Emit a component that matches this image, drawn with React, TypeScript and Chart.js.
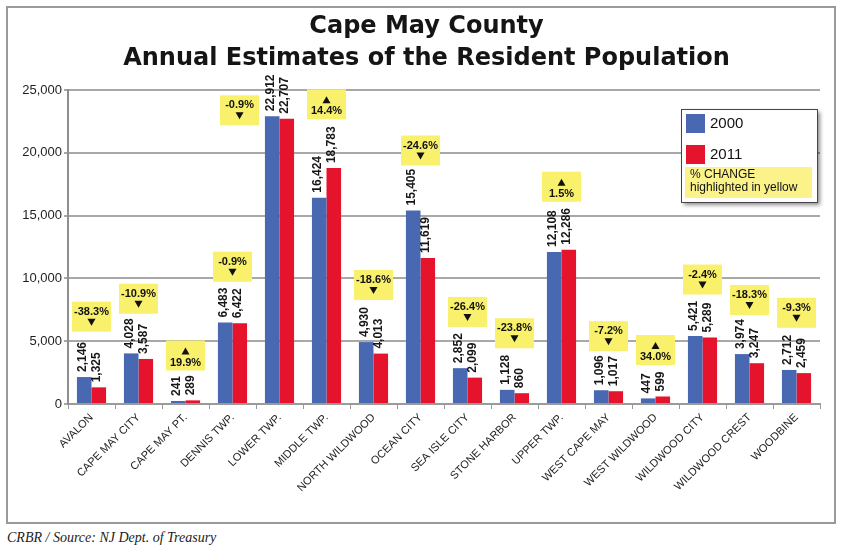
import React, { useEffect, useRef } from "react";
import { Chart, registerables } from "chart.js";

Chart.register(...registerables);

const categories = [
  "AVALON",
  "CAPE MAY CITY",
  "CAPE MAY PT.",
  "DENNIS TWP.",
  "LOWER TWP.",
  "MIDDLE TWP.",
  "NORTH WILDWOOD",
  "OCEAN CITY",
  "SEA ISLE CITY",
  "STONE HARBOR",
  "UPPER TWP.",
  "WEST CAPE MAY",
  "WEST WILDWOOD",
  "WILDWOOD CITY",
  "WILDWOOD CREST",
  "WOODBINE",
];
const pop2000 = [2146, 4028, 241, 6483, 22912, 16424, 4930, 15405, 2852, 1128, 12108, 1096, 447, 5421, 3974, 2712];
const pop2011 = [1325, 3587, 289, 6422, 22707, 18783, 4013, 11619, 2099, 860, 12286, 1017, 599, 5289, 3247, 2459];
const pctChange = [-38.3, -10.9, 19.9, -0.9, -0.9, 14.4, -18.6, -24.6, -26.4, -23.8, 1.5, -7.2, 34.0, -2.4, -18.3, -9.3];
// annotation anchors for the yellow % boxes: y value of box centre, and category offset
const changeAnchorValue = [6950, 8380, 3860, 10930, 23380, 23860, 9480, 20180, 7330, 5630, 17300, 5400, 4300, 9910, 8280, 7260];
const changeAnchorShift = [0, 0, 0, 0, -0.85, 0, 0, 0, 0, 0, 0, 0, 0, 0, 0, 0];
const seriesLabels = ["2000", "2011"];
const legendNote = ["% CHANGE", "highlighted in yellow"];
const titleLines = ["Cape May County", "Annual Estimates of the Resident Population"];
const sourceText = "CRBR / Source: NJ Dept. of Treasury";

const BLUE = "#4868b2";
const RED = "#e6132d";
const YELLOW = "#f9f06c";
const SANS = '"Liberation Sans", Arial, sans-serif';

const fmt = (v: number) => v.toLocaleString("en-US");
const fmtPct = (v: number) => v.toFixed(1) + "%";

const titleShift = {
  id: "titleShift",
  afterLayout(chart: any) {
    const t = chart.titleBlock;
    if (t) {
      t.left += 12.5;
      t.right += 12.5;
    }
  },
};

const valueLabels = {
  id: "valueLabels",
  afterDatasetsDraw(chart: any) {
    const ctx = chart.ctx;
    ctx.save();
    ctx.font = `bold 12px ${SANS}`;
    ctx.fillStyle = "#161616";
    ctx.textAlign = "left";
    ctx.textBaseline = "middle";
    chart.data.datasets.forEach((ds: any, di: number) => {
      const meta = chart.getDatasetMeta(di);
      meta.data.forEach((bar: any, i: number) => {
        ctx.save();
        ctx.translate(bar.x - 2, bar.y - 5);
        ctx.rotate(-Math.PI / 2);
        ctx.fillText(fmt(ds.data[i]), 0, 0);
        ctx.restore();
      });
    });
    ctx.restore();
  },
};

const changeBoxes = {
  id: "changeBoxes",
  afterDatasetsDraw(chart: any) {
    const ctx = chart.ctx;
    const xs = chart.scales.x;
    const ys = chart.scales.y;
    const step = xs.width / categories.length;
    ctx.save();
    categories.forEach((_c, i) => {
      const cx = xs.getPixelForValue(i) + changeAnchorShift[i] * step;
      const cy = ys.getPixelForValue(changeAnchorValue[i]);
      const w = 39;
      const h = 30;
      const left = cx - w / 2;
      const top = cy - h / 2;
      ctx.fillStyle = YELLOW;
      ctx.fillRect(left, top, w, h);
      ctx.fillStyle = "#111";
      ctx.font = `bold 11px ${SANS}`;
      ctx.textAlign = "center";
      ctx.textBaseline = "middle";
      const up = pctChange[i] > 0;
      ctx.beginPath();
      if (up) {
        ctx.moveTo(cx, top + 7);
        ctx.lineTo(cx + 4, top + 14);
        ctx.lineTo(cx - 4, top + 14);
        ctx.closePath();
        ctx.fill();
        ctx.fillText(fmtPct(pctChange[i]), cx, top + 22);
      } else {
        ctx.fillText(fmtPct(pctChange[i]), cx, top + 10);
        ctx.moveTo(cx - 4, top + 17);
        ctx.lineTo(cx + 4, top + 17);
        ctx.lineTo(cx, top + 24);
        ctx.closePath();
        ctx.fill();
      }
    });
    ctx.restore();
  },
};

const boxLegend = {
  id: "boxLegend",
  afterDraw(chart: any) {
    const ctx = chart.ctx;
    const a = chart.chartArea;
    const x = a.right - 139;
    const y = a.top + 19;
    const w = 136;
    const h = 93;
    ctx.save();
    ctx.shadowColor = "rgba(0,0,0,0.45)";
    ctx.shadowBlur = 4;
    ctx.shadowOffsetX = 3;
    ctx.shadowOffsetY = 3;
    ctx.fillStyle = "#fff";
    ctx.fillRect(x, y, w, h);
    ctx.restore();
    ctx.save();
    ctx.strokeStyle = "#444";
    ctx.lineWidth = 1;
    ctx.strokeRect(x + 0.5, y + 0.5, w, h);
    const colors = [BLUE, RED];
    seriesLabels.forEach((lab, k) => {
      const sy = y + 5 + k * 31;
      ctx.fillStyle = colors[k];
      ctx.fillRect(x + 5, sy, 19, 19);
      ctx.fillStyle = "#111";
      ctx.font = `15px ${SANS}`;
      ctx.textAlign = "left";
      ctx.textBaseline = "middle";
      ctx.fillText(lab, x + 29, sy + 10);
    });
    ctx.fillStyle = "#fbf38a";
    ctx.fillRect(x + 4, y + 58, 127, 31);
    ctx.fillStyle = "#111";
    ctx.font = `12px ${SANS}`;
    ctx.textAlign = "left";
    ctx.textBaseline = "middle";
    legendNote.forEach((t, k) => ctx.fillText(t, x + 9, y + 66 + k * 12.5));
    ctx.restore();
  },
};

export default function App() {
  const ref = useRef<HTMLCanvasElement>(null);

  useEffect(() => {
    if (!ref.current) return;
    const chart = new Chart(ref.current, {
      type: "bar",
      data: {
        labels: categories,
        datasets: [
          { label: seriesLabels[0], data: pop2000, backgroundColor: BLUE, borderWidth: 0 },
          { label: seriesLabels[1], data: pop2011, backgroundColor: RED, borderWidth: 0 },
        ],
      },
      options: {
        responsive: false,
        animation: false,
        devicePixelRatio: 1,
        layout: { padding: { left: 0, right: 14, top: 0, bottom: 0 } },
        datasets: { bar: { categoryPercentage: 0.62, barPercentage: 1.0 } },
        plugins: {
          legend: { display: false },
          tooltip: { enabled: false },
          title: {
            display: true,
            text: titleLines,
            color: "#151515",
            font: { family: '"DejaVu Sans", sans-serif', size: 24, weight: "bold", lineHeight: 1.333 },
            padding: { top: 2.5, bottom: 15.5 },
          },
        },
        scales: {
          x: {
            afterFit: (s: any) => {
              s.height = 118;
            },
            grid: {
              display: true,
              drawOnChartArea: false,
              offset: true,
              color: "#9a9a9a",
              tickLength: 5,
            },
            border: { display: true, color: "#9a9a9a", width: 2 },
            ticks: {
              minRotation: 45,
              maxRotation: 45,
              autoSkip: false,
              padding: 2,
              color: "#1e1e1e",
              font: { family: SANS, size: 11 },
            },
          },
          y: {
            min: 0,
            max: 25000,
            afterFit: (s: any) => {
              s.width = 60;
            },
            grid: { color: "#a8a8a8", lineWidth: 2, tickLength: 4 },
            border: { display: true, color: "#8f8f8f", width: 2 },
            ticks: {
              stepSize: 5000,
              padding: 2,
              color: "#1e1e1e",
              font: { family: SANS, size: 13 },
              callback: (v: any) => fmt(Number(v)),
            },
          },
        },
      },
      plugins: [titleShift, valueLabels, changeBoxes, boxLegend],
    });
    return () => chart.destroy();
  }, []);

  return (
    <div style={{ position: "absolute", left: 0, top: 0, width: 844, height: 553, background: "#fff" }}>
      <div
        style={{
          position: "absolute",
          left: 6,
          top: 6,
          width: 830,
          height: 518,
          boxSizing: "border-box",
          border: "2px solid #9a9a9a",
        }}
      >
        <canvas ref={ref} width={826} height={514} style={{ display: "block" }} />
      </div>
      <div
        style={{
          position: "absolute",
          left: 7,
          top: 530,
          font: 'italic 14px "Liberation Serif", serif',
          color: "#222",
          whiteSpace: "nowrap",
        }}
      >
        {sourceText}
      </div>
    </div>
  );
}
